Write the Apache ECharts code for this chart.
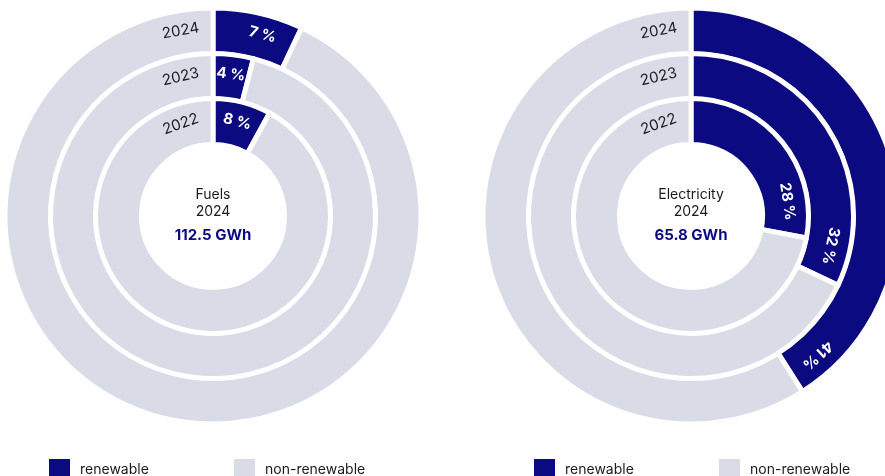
<!DOCTYPE html>
<html>
<head>
<meta charset="utf-8">
<script src="https://cdn.jsdelivr.net/npm/echarts@6/dist/echarts.min.js"></script>
<style>
  html, body { margin: 0; padding: 0; background: #fff; }
  #chart { width: 885px; height: 476px; }
</style>
</head>
<body>
<div id="chart"></div>
<script>
// Rings run from the outside in: 2024, 2023, 2022
const years = ['2024', '2023', '2022'];
const fuelsRenewable = [7, 4, 8];          // % renewable per year
const electricityRenewable = [41, 32, 28]; // % renewable per year
const panelTitles = ['Fuels', 'Electricity'];
const panelYear = '2024';
const panelTotals = ['112.5 GWh', '65.8 GWh'];
const seriesNames = ['renewable', 'non-renewable'];

const BLUE = '#0c0a80';
const GREY = '#d9dbe7';
const INK = '#1b1b1f';
const FONT = 'Inter, "Noto Sans", sans-serif';
const GAP = 5;                 // white gap between slices and rings
const LABEL_INSET = 32;        // px from the end of a slice to its label centre
const ringBounds = [[164.5, 205.5], [119.5, 160], [74, 115]]; // visible inner/outer radius
const centers = [[213, 216], [691, 216]];

const valueLabelStyle = { color: '#fff', fontFamily: FONT, fontSize: 15, fontWeight: 700 };
const yearLabelStyle = { color: INK, fontFamily: FONT, fontSize: 15, fontWeight: 400 };

function ringRadius(b) { return [b[0] - GAP / 2, b[1] + GAP / 2]; }

function mainRing(ci, ri, values) {
  const v = values[ri];
  return {
    type: 'pie',
    center: centers[ci],
    radius: ringRadius(ringBounds[ri]),
    startAngle: 90,
    clockwise: true,
    animation: false,
    label: { show: false },
    labelLine: { show: false },
    emphasis: { disabled: true },
    itemStyle: { borderColor: '#fff', borderWidth: GAP },
    data: [
      { name: seriesNames[0], value: v, itemStyle: { color: BLUE } },
      { name: seriesNames[1], value: 100 - v, itemStyle: { color: GREY } }
    ]
  };
}

// Transparent ring carrying the value and year labels, placed near the slice ends
function labelRing(ci, ri, values) {
  const v = values[ri];
  const rb = ringRadius(ringBounds[ri]);
  const rMid = (rb[0] + rb[1]) / 2;
  const inset = LABEL_INSET / (2 * Math.PI * rMid) * 100;
  const marks = [
    { at: Math.max(v / 2, v - inset), text: v + ' %', style: valueLabelStyle },
    { at: 100 - inset, text: years[ri], style: yearLabelStyle }
  ];
  const eps = 0.05;
  const data = [];
  let pos = 0;
  marks.forEach(m => {
    data.push({ value: m.at - eps - pos, label: { show: false } });
    data.push({
      value: 2 * eps,
      label: Object.assign({ show: true, position: 'inside', formatter: m.text, rotate: -m.at * 3.6 }, m.style)
    });
    pos = m.at + eps;
  });
  data.push({ value: 100 - pos, label: { show: false } });
  return {
    type: 'pie',
    silent: true,
    center: centers[ci],
    radius: rb,
    startAngle: 90,
    clockwise: true,
    animation: false,
    itemStyle: { color: 'transparent', borderWidth: 0 },
    label: { position: 'inside' },
    labelLine: { show: false },
    emphasis: { disabled: true },
    data
  };
}

const panels = [fuelsRenewable, electricityRenewable];
const series = [];
panels.forEach((vals, ci) => {
  years.forEach((y, ri) => series.push(mainRing(ci, ri, vals)));
});
panels.forEach((vals, ci) => {
  years.forEach((y, ri) => series.push(labelRing(ci, ri, vals)));
});

function legendAt(name, left) {
  return {
    data: [name],
    left: left,
    top: 459,
    padding: 0,
    icon: 'rect',
    itemWidth: 21,
    itemHeight: 21,
    selectedMode: false,
    itemStyle: { borderWidth: 0 },
    textStyle: { fontFamily: FONT, fontSize: 14, color: INK, padding: [0, 0, 0, 5] }
  };
}

const graphic = [];
centers.forEach((c, i) => {
  graphic.push({ type: 'text', x: c[0], y: c[1] - 21,
    style: { text: panelTitles[i], align: 'center', verticalAlign: 'middle', fill: INK, fontFamily: FONT, fontSize: 14 } });
  graphic.push({ type: 'text', x: c[0], y: c[1] - 4,
    style: { text: panelYear, align: 'center', verticalAlign: 'middle', fill: INK, fontFamily: FONT, fontSize: 14 } });
  graphic.push({ type: 'text', x: c[0], y: c[1] + 19,
    style: { text: panelTotals[i], align: 'center', verticalAlign: 'middle', fill: BLUE, fontFamily: FONT, fontSize: 15, fontWeight: 700 } });
});

const chart = echarts.init(document.getElementById('chart'), null, { renderer: 'canvas' });
chart.setOption({
  backgroundColor: '#fff',
  animation: false,
  legend: [
    legendAt(seriesNames[0], 49),
    legendAt(seriesNames[1], 234),
    legendAt(seriesNames[0], 534),
    legendAt(seriesNames[1], 719)
  ],
  graphic,
  series
});
</script>
</body>
</html>
